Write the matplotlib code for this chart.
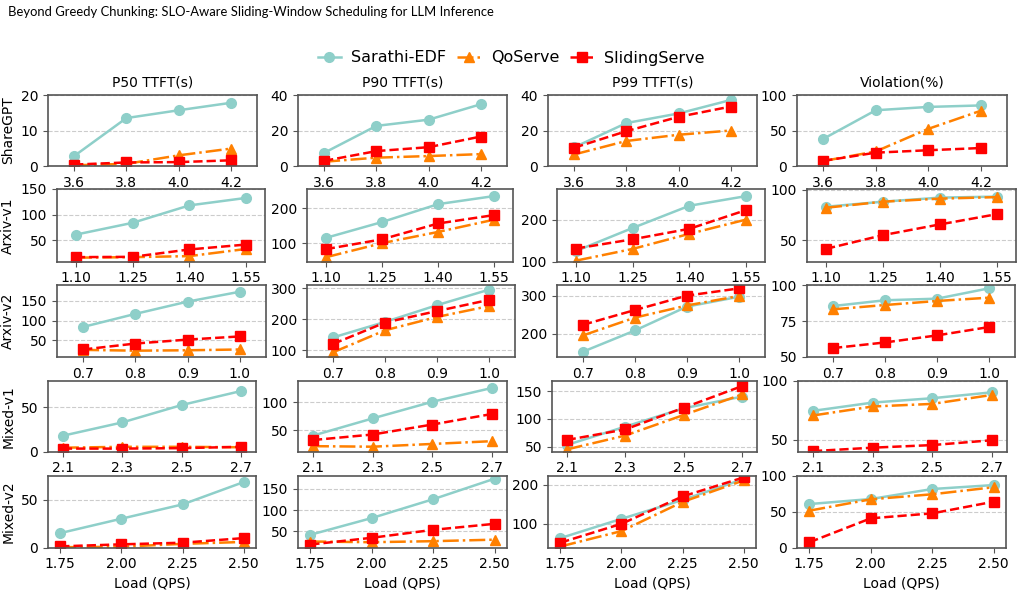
import matplotlib
matplotlib.use("Agg")
import matplotlib.pyplot as plt

W, H = 1022, 592

datasets = ["ShareGPT", "Arxiv-v1", "Arxiv-v2", "Mixed-v1", "Mixed-v2"]
metrics = ["P50 TTFT(s)", "P90 TTFT(s)", "P99 TTFT(s)", "Violation(%)"]
methods = ["Sarathi-EDF", "QoServe", "SlidingServe"]

# load (QPS) per dataset
loads_sharegpt = [3.6, 3.8, 4.0, 4.2]
loads_arxiv1 = [1.10, 1.25, 1.40, 1.55]
loads_arxiv2 = [0.7, 0.8, 0.9, 1.0]
loads_mixed1 = [2.1, 2.3, 2.5, 2.7]
loads_mixed2 = [1.75, 2.00, 2.25, 2.50]

# each list: [P50, P90, P99, Violation]
sharegpt_sarathi = [[2.8, 13.5, 15.7, 17.8], [7.4, 22.6, 26.1, 34.8], [10.5, 24.2, 29.6, 37.2], [38.2, 78.5, 83.2, 85.3]]
sharegpt_qoserve = [[0.2, 0.6, 3.0, 4.9], [2.4, 4.7, 5.6, 6.7], [6.5, 14.1, 17.6, 20.0], [7.0, 20.5, 52.3, 77.8]]
sharegpt_sliding = [[0.4, 1.0, 1.1, 1.6], [2.9, 8.4, 10.6, 16.6], [10.3, 19.6, 27.7, 33.5], [7.2, 18.8, 22.2, 25.3]]

arxiv1_sarathi = [[61, 84, 118, 132.6], [115, 160, 211, 234], [125, 180, 233, 256], [83, 88, 92, 93]]
arxiv1_qoserve = [[16, 17, 19, 33], [60, 100, 132, 167], [102, 130, 166, 200], [82, 88, 91, 92.5]]
arxiv1_sliding = [[17, 17.6, 32, 41.6], [83, 111, 156, 180], [131, 153, 178, 222.7], [41.5, 55, 65.6, 75.7]]

arxiv2_sarathi = [[84, 117, 148, 173], [142, 192, 246, 296], [153, 209, 272, 298], [85.4, 89.4, 90.5, 97.7]]
arxiv2_qoserve = [[26, 24, 25, 27], [94, 165, 208, 243], [196, 243, 275, 300], [83.1, 86.1, 88.9, 91.2]]
arxiv2_sliding = [[27, 42, 52, 60], [121, 190, 227, 263], [224, 263, 301, 320], [56.2, 60.1, 65.0, 70.8]]

mixed1_sarathi = [[18, 33, 52.6, 68.4], [40, 71, 101, 126], [53, 86, 119, 140], [74.5, 81.5, 85.2, 90.2]]
mixed1_qoserve = [[4.5, 5.5, 5.5, 5.0], [21, 20, 25, 30], [45, 70, 107, 144], [70.6, 78.2, 80.4, 88]]
mixed1_sliding = [[3.5, 3.5, 4.0, 5.5], [32, 42, 60, 79], [62, 81, 120, 159], [40.5, 43.4, 45.6, 49.7]]

mixed2_sarathi = [[15.2, 30.2, 45.1, 68.4], [41.5, 81, 125.5, 174], [63.4, 112.7, 161, 214.6], [60.6, 67.6, 81.5, 87]]
mixed2_qoserve = [[0.5, 1.0, 4.0, 6.0], [25.6, 24, 26.4, 30], [42, 81.4, 156, 211], [51.4, 67.2, 74.2, 84]]
mixed2_sliding = [[1.4, 3.5, 5.2, 10], [18.5, 34.4, 53.2, 67.4], [51.7, 100, 170, 218.7], [7.5, 40.8, 47.7, 63.9]]

# y ticks per panel
yticks_sharegpt = [[0, 10, 20], [0, 20, 40], [0, 20, 40], [0, 50, 100]]
yticks_arxiv1 = [[50, 100, 150], [100, 200], [100, 200], [50, 100]]
yticks_arxiv2 = [[50, 100, 150], [100, 200, 300], [200, 300], [50, 75, 100]]
yticks_mixed1 = [[0, 50], [50, 100], [50, 100, 150], [50, 100]]
yticks_mixed2 = [[0, 50], [50, 100, 150], [100, 200], [0, 50, 100]]

loads = [loads_sharegpt, loads_arxiv1, loads_arxiv2, loads_mixed1, loads_mixed2]
results = [
    [sharegpt_sarathi, sharegpt_qoserve, sharegpt_sliding],
    [arxiv1_sarathi, arxiv1_qoserve, arxiv1_sliding],
    [arxiv2_sarathi, arxiv2_qoserve, arxiv2_sliding],
    [mixed1_sarathi, mixed1_qoserve, mixed1_sliding],
    [mixed2_sarathi, mixed2_qoserve, mixed2_sliding],
]
yticks = [yticks_sharegpt, yticks_arxiv1, yticks_arxiv2, yticks_mixed1, yticks_mixed2]

ylims = [
    [(0, 20), (0, 40), (0, 40), (0, 100)],
    [(8.5, 150), (48, 254), (100, 273), (29, 100.5)],
    [(8, 190), (79, 311), (139, 329), (50, 100)],
    [(0, 80), (11, 139), (41, 168.5), (40, 100)],
    [(0, 75), (11, 181), (39, 223), (0, 100)],
]
xpad = [0.1, 0.05, 0.05, 0.05, 0.05]
row_tb = [(95, 166), (189, 261.5), (285, 357), (380.7, 451.7), (475.7, 547.7)]
col_lr = [
    [(48, 257), (298, 507), (548, 757), (797, 1007)],
    [(57, 265), (307, 513), (557, 765), (807, 1016)],
    [(57, 266), (307, 515), (557, 765), (807, 1015)],
    [(48, 256), (298, 507), (552, 757), (798, 1007)],
    [(48, 256), (298, 507), (548, 756), (797, 1006)],
]

colors = ["#8ECFC9", "#FF8000", "#FF0000"]
markers = ["o", "^", "s"]
styles = ["-", "-.", "--"]

fig = plt.figure(figsize=(W / 100, H / 100), dpi=100)

handles = []
for r in range(5):
    t, b = row_tb[r]
    for c in range(4):
        l, rr = col_lr[r][c]
        ax = fig.add_axes([l / W, 1 - b / H, (rr - l) / W, (b - t) / H])
        x = loads[r]
        for m in range(3):
            h, = ax.plot(x, results[r][m][c], color=colors[m], marker=markers[m],
                         linestyle=styles[m], linewidth=1.8, markersize=7, label=methods[m])
            if r == 0 and c == 0:
                handles.append(h)
        ax.set_xticks(x)
        ax.set_xticklabels(["%.2f" % v if r in (1, 4) else "%.1f" % v for v in x])
        ax.set_xlim(x[0] - xpad[r], x[-1] + xpad[r])
        ax.set_yticks(yticks[r][c])
        ax.set_ylim(*ylims[r][c])
        ax.grid(axis="y", linestyle="--", color="#cccccc", linewidth=0.8)
        ax.set_axisbelow(True)
        for s in ax.spines.values():
            s.set_color("#555555")
            s.set_linewidth(1.2)
        ax.tick_params(labelsize=10, color="#555555")
        if r == 0:
            ax.set_title(metrics[c], fontsize=10)
        if c == 0:
            ax.set_ylabel(datasets[r], fontsize=10)
        if r == 4:
            ax.set_xlabel("Load (QPS)", fontsize=10)

fig.legend(handles=handles, loc="center", bbox_to_anchor=(0.5, 1 - 58 / H), ncol=3,
           frameon=False, fontsize=11.5, handlelength=1.5, handletextpad=0.6,
           columnspacing=0.7)

fig.text(8 / W, 1 - 12 / H, "Beyond Greedy Chunking: SLO-Aware Sliding-Window Scheduling for LLM Inference",
         family="Lato", fontsize=9.4, va="center", ha="left")

fig.savefig("out.png", dpi=100)
